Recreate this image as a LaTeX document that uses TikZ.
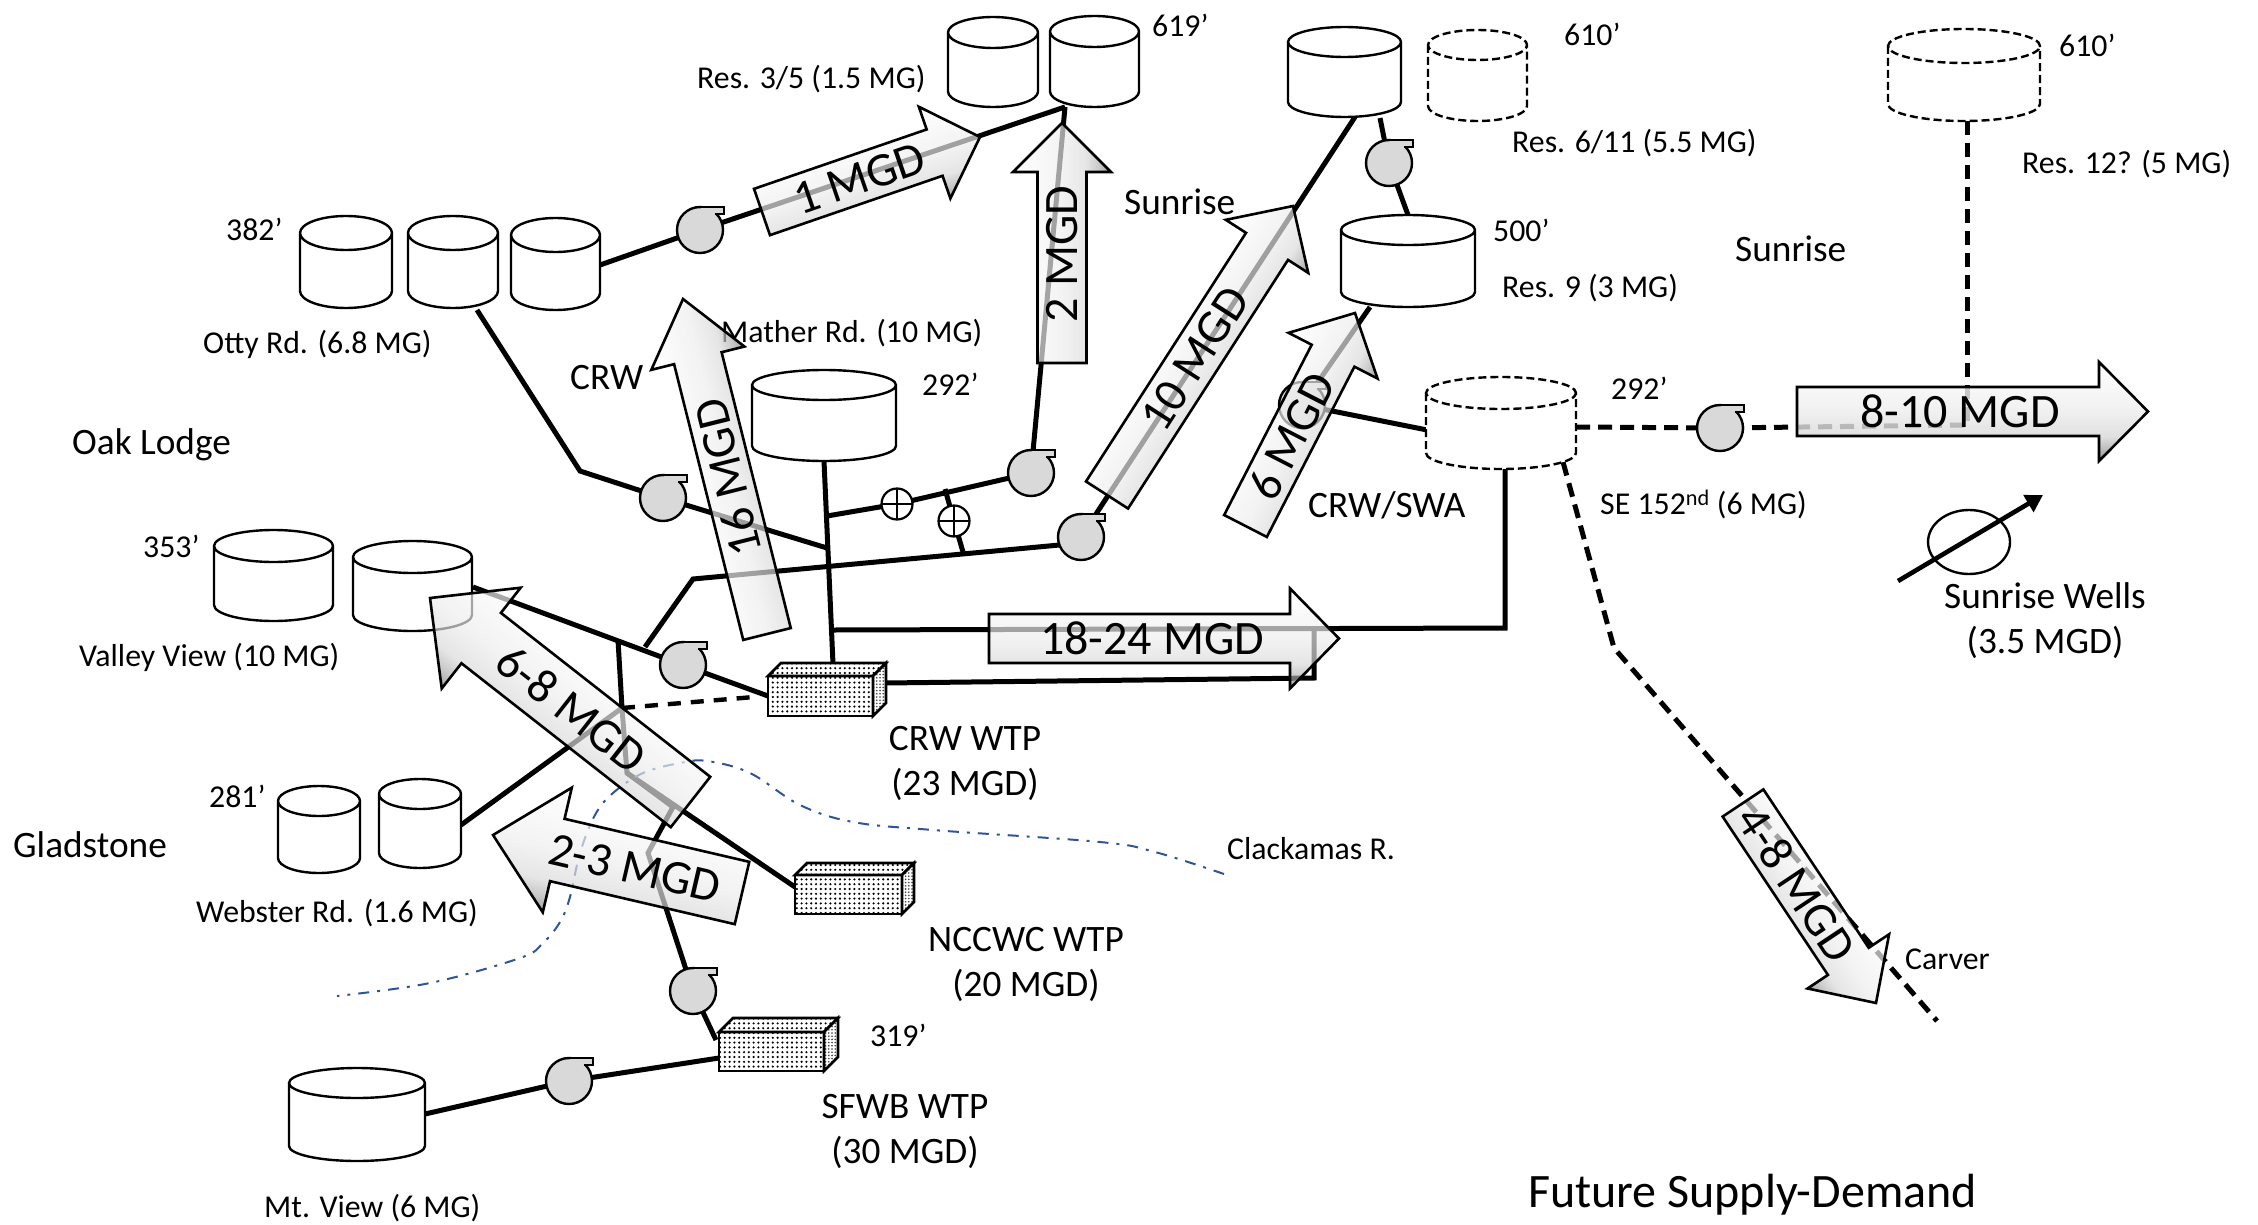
\documentclass[tikz,border=0pt]{standalone}
\usepackage{fontspec}
\setmainfont{Carlito}
\usetikzlibrary{patterns.meta,arrows.meta,shapes.geometric}
\pgfdeclarelayer{pipes}
\pgfsetlayers{pipes,main}
\definecolor{river}{HTML}{2F5597}
\definecolor{pumpgray}{HTML}{D9D9D9}
\pgfdeclareverticalshading{flowA}{100bp}{color(0bp)=(black!55); color(25bp)=(black!55); color(31bp)=(black!32); color(37.5bp)=(black!15); color(50bp)=(black!7); color(75bp)=(white); color(100bp)=(white)}
\pgfdeclareverticalshading{flowB}{100bp}{color(0bp)=(white); color(25bp)=(white); color(50bp)=(black!7); color(62.5bp)=(black!15); color(69bp)=(black!32); color(75bp)=(black!55); color(100bp)=(black!55)}
\tikzset{
  pipe/.style={line width=5pt,line join=miter},
  dashpipe/.style={line width=5pt,dash pattern=on 14pt off 8pt},
  shortdash/.style={line width=4.4pt,dash pattern=on 13pt off 10pt},
  tankline/.style={line width=2.4pt},
  tankdash/.style={line width=2.4pt,dash pattern=on 8pt off 4pt},
  anchorbox/.style={inner sep=0pt,outer sep=0pt,draw=none},
  pumpbody/.style={circle,draw,line width=2.4pt,fill=pumpgray,minimum size=46pt,inner sep=0pt,outer sep=0pt},
  valvebody/.style={circle,draw,line width=2.2pt,fill=white,minimum size=31pt,inner sep=0pt,outer sep=0pt},
  lab/.style={anchor=west,inner sep=0pt,font=\fontsize{31.8}{36}\selectfont},
  labc/.style={anchor=center,align=center,inner sep=0pt,font=\fontsize{37.3}{45}\selectfont},
  region/.style={anchor=west,inner sep=0pt,font=\fontsize{37.3}{42}\selectfont},
  flowtxt/.style={inner sep=0pt,font=\fontsize{48}{52}\selectfont},
  flowbody/.style={draw,line width=2.6pt,line join=miter,fill opacity=.68},
}
% name x0 y0 x1 y1 ry
\newcommand\tankk[7][tankline]{%
  \pgfmathsetmacro\tcx{(#3+#5)/2}\pgfmathsetmacro\tcy{(#4+#6)/2}%
  \pgfmathsetmacro\trx{(#5-#3)/2}%
  \pgfmathsetmacro\tya{#4+#7}\pgfmathsetmacro\tyb{#6-#7}%
  \node[anchorbox,minimum width={(#5-#3)*1pt},minimum height={(#6-#4)*1pt}] (#2) at (\tcx,\tcy) {};
  \draw[#1,fill=white] (#3,\tya) -- (#3,\tyb) arc[start angle=180,end angle=0,x radius=\trx,y radius=#7] -- (#5,\tya) arc[start angle=360,end angle=180,x radius=\trx,y radius=#7] arc[start angle=180,end angle=0,x radius=\trx,y radius=#7];
}
\newcommand\pumpp[3]{%
  \node[pumpbody] (#1) at (#2,#3) {};
  \fill[pumpgray] (#2,#3-23) -- (#2+24,#3-23) -- (#2+24,#3-16) -- (#2+15,#3-16) -- (#2+8,#3-10) -- cycle;
  \draw[line width=2.4pt] (#2,#3-23) -- (#2+24,#3-23) -- (#2+24,#3-16) -- (#2+15,#3-16);
}
\newcommand\valvee[3]{%
  \node[valvebody] (#1) at (#2,#3) {};
  \draw[line width=2.2pt] (#1.north) -- (#1.south) (#1.east) -- (#1.west);
}
% name x0 y1 x1 y2 depth
\newcommand\plantt[6]{%
  \pgfmathsetmacro\pcx{(#2+#4)/2}\pgfmathsetmacro\pcy{(#3+#5)/2}%
  \node[anchorbox,minimum width={(#4-#2)*1pt},minimum height={(#5-#3)*1pt}] (#1) at (\pcx,\pcy) {};
  \path[preaction={fill=white},pattern={Dots[radius=1.2pt,distance=4.8pt]},draw,line width=2.6pt] (#2,#3) rectangle (#4,#5);
  \path[preaction={fill=white},pattern={Dots[radius=1.2pt,distance=4.8pt]},draw,line width=2.6pt] (#2,#3) -- (#2+#6,#3-#6) -- (#4+#6,#3-#6) -- (#4,#3) -- cycle;
  \path[preaction={fill=white},pattern={Dots[radius=.9pt,distance=3.2pt]},pattern color=black!75,draw,line width=2.6pt] (#4,#3) -- (#4+#6,#3-#6) -- (#4+#6,#5-#6) -- (#4,#5) -- cycle;
}
% text, distance from tail, rotation
\newcommand\flowtext[3]{\def\ftxt{#1}\def\fdist{#2}\def\frot{#3}}
% name shade tailx taily tipx tipy headlen halfstem halfhead
\newcommand\flowarrow[9]{%
  \pgfmathsetmacro\fang{atan2(-(#6-#4),#5-#3)}%
  \pgfmathsetmacro\flen{veclen(#5-#3,#6-#4)}%
  \pgfmathsetmacro\fneck{\flen-#7}%
  \begin{scope}[transform canvas={shift={(#3,#4)},rotate=\fang}]
    \path[flowbody,shade,shading=#2] (0,-#8) -- (\fneck,-#8) -- (\fneck,-#9) -- (\flen,0) -- (\fneck,#9) -- (\fneck,#8) -- (0,#8) -- cycle;
    \node[flowtxt,rotate=\frot] (#1) at (\fdist,0) {\ftxt};
  \end{scope}
}
\begin{document}
\begin{tikzpicture}[x=1pt,y=-1pt]
\useasboundingbox (0,0) rectangle (2258,1225);
% ---- river
\draw[river,line width=2pt,dash pattern=on 11pt off 8pt on 3pt off 8pt] plot[smooth,tension=.6] coordinates {(1224,874) (1155,852) (1100,842) (933,830) (853,822) (800,805) (750,773) (707,761) (680,763) (643,773) (613,793) (595,815) (580,853) (570,897) (560,922) (543,943) (520,958) (430,983) (337,996)};
% ---- tanks
\tankk{resA}{948}{17}{1038}{107}{15.5}
\tankk{resB}{1050}{16}{1139}{107}{15.5}
\tankk{resC}{1288}{27}{1401}{117}{15}
\tankk[tankdash]{resD}{1428}{30}{1527}{121}{15}
\tankk{resE}{1341}{215}{1475}{307}{15}
\tankk[tankdash]{resF}{1888}{29}{2040}{121}{17}
\tankk[tankdash]{seT}{1426}{377}{1576}{469}{16}
\tankk{otA}{300}{216}{392}{308}{17}
\tankk{otB}{408}{216}{498}{308}{17}
\tankk{otC}{511}{218}{600}{310}{17}
\tankk{mat}{752}{370}{896}{461}{15}
\tankk{vvA}{214}{530}{333}{621}{16}
\tankk{vvB}{353}{541}{472}{631}{16}
\tankk{wbA}{278}{786}{360}{873}{15}
\tankk{wbB}{379}{779}{461}{868}{15}
\tankk{mtv}{289}{1068}{425}{1161}{15}
% ---- pumps and valves
\pumpp{pA}{700}{230}
\pumpp{pB}{1031}{473}
\pumpp{pC}{663}{498}
\pumpp{pD}{1081}{537}
\pumpp{pE}{1389}{163}
\pumpp{pF}{1720}{428}
\pumpp{pG}{683}{665}
\pumpp{pH}{693}{991}
\pumpp{pI}{569}{1081}
\pumpp{pJ}{1302}{405}
\valvee{vA}{897}{504}
\valvee{vB}{954}{521}
% ---- treatment plants
\plantt{crw}{768}{676}{873}{716}{13}
\plantt{ncc}{795}{875}{902}{914}{12}
\plantt{sfw}{719}{1032}{824}{1071}{14}
% ---- well
\node[draw,ellipse,line width=2.4pt,minimum width=82pt,minimum height=64pt,inner sep=0pt] (well) at (1969,542) {};
\coordinate (wellA) at (1898,581);
\coordinate (wellB) at (2043,495);
\draw[line width=4.6pt,-{Triangle[length=17pt,width=19pt]}] (wellA) -- (wellB);
% ---- junctions
\coordinate (ottOut) at (600,265);
\coordinate (resIn) at (1065,107);
\coordinate (ottLow) at (477,310);
\coordinate (bendA) at (580,471);
\coordinate (jMain) at (827,548);
\coordinate (matOut) at (824,461);
\coordinate (crwTop) at (833,664);
\coordinate (jUp) at (827,516);
\coordinate (jV1) at (945,489);
\coordinate (jV2) at (963,552);
\coordinate (jLow) at (645,647);
\coordinate (bendB) at (693,579);
\coordinate (pDin) at (1081,543);
\coordinate (vvOut) at (473,587);
\coordinate (crwIn) at (768,696);
\coordinate (jVv) at (618,640);
\coordinate (jDash) at (622,708);
\coordinate (dashEnd) at (754,697);
\coordinate (wbOut) at (461,825);
\coordinate (bendC) at (627,773);
\coordinate (jNcc) at (673,807);
\coordinate (nccIn) at (795,887);
\coordinate (bendD) at (648,853);
\coordinate (sfwIn) at (716,1040);
\coordinate (sfwOut) at (719,1058);
\coordinate (mtvOut) at (425,1114);
\coordinate (crwOut) at (885,683);
\coordinate (bendE) at (1314,678);
\coordinate (jMainE) at (1314,628);
\coordinate (jCrw) at (834,630);
\coordinate (bendF) at (1505,628);
\coordinate (seBot) at (1505,468);
\coordinate (resCout) at (1355,117);
\coordinate (resCout2) at (1380,118);
\coordinate (resEin) at (1408,215);
\coordinate (resEout) at (1370,307);
\coordinate (seIn) at (1427,430);
\coordinate (seOut) at (1576,427);
\coordinate (jEast) at (1967,425);
\coordinate (resFout) at (1967,121);
\coordinate (seOut2) at (1563,462);
\coordinate (bendG) at (1614,648);
\coordinate (carver) at (1937,1021);
% ---- pipes
\begin{pgfonlayer}{pipes}
\draw[pipe] (ottOut) -- (pA.center) -- (resIn);
\draw[pipe] (resIn) -- (pB.center);
\draw[pipe] (ottLow) -- (bendA) -- (pC.center) -- (jMain);
\draw[pipe] (matOut) -- (crwTop);
\draw[pipe] (jUp) -- (vA.center) -- (pB.center);
\draw[pipe] (jV1) -- (vB.center) -- (jV2);
\draw[pipe] (jLow) -- (bendB) -- (pDin);
\draw[pipe] (pD.center) -- (resCout);
\draw[pipe] (vvOut) -- (pG.center) -- (crwIn);
\draw[pipe] (jVv) -- (jDash) -- (bendC) -- (jNcc) -- (bendD) -- (pH.center) -- (sfwIn);
\draw[pipe] (bendC) -- (nccIn);
\draw[pipe] (wbOut) -- (jDash);
\draw[shortdash] (jDash) -- (dashEnd);
\draw[pipe] (sfwOut) -- (pI.center) -- (mtvOut);
\draw[pipe] (jCrw) -- (bendF) -- (seBot);
\draw[pipe] (crwOut) -- (bendE) -- (jMainE);
\draw[pipe] (resCout2) -- (pE.center) -- (resEin);
\draw[pipe] (resEout) -- (pJ.center) -- (seIn);
\draw[dashpipe] (seOut) -- (pF.center) -- (jEast);
\draw[dashpipe] (resFout) -- (jEast);
\draw[dashpipe] (seOut2) -- (bendG) -- (carver);
\end{pgfonlayer}
% ---- labels
\node[lab] (tA) at (697,79) {Res. 3/5 (1.5 MG)};
\node[lab] (tB) at (1152,25) {619’};
\node[lab] (tC) at (1564,34) {610’};
\node[lab] (tD) at (1512,143) {Res. 6/11 (5.5 MG)};
\node[lab] (tE) at (2059,45) {610’};
\node[lab] (tF) at (2022,164) {Res. 12? (5 MG)};
\node[region] (tG) at (1124,202) {Sunrise};
\node[region] (tH) at (1735,249) {Sunrise};
\node[lab] (tI) at (226,229) {382’};
\node[lab] (tJ) at (203,344) {Otty Rd. (6.8 MG)};
\node[lab] (tK) at (1493,230) {500’};
\node[lab] (tL) at (1502,288) {Res. 9 (3 MG)};
\node[lab] (tM) at (721,333) {Mather Rd. (10 MG)};
\node[lab] (tN) at (922,384) {292’};
\node[region] (tO) at (570,378) {CRW};
\node[region] (tP) at (72,445) {Oak Lodge};
\node[lab] (tQ) at (1611,388) {292’};
\node[lab] (tR) at (1600,504) {SE 152\textsuperscript{nd} (6 MG)};
\node[region] (tS) at (1308,505) {CRW/SWA};
\node[lab] (tT) at (143,546) {353’};
\node[lab] (tU) at (79,657) {Valley View (10 MG)};
\node[labc] (tV) at (965,763) {CRW WTP\\(23 MGD)};
\node[lab] (tW) at (209,796) {281’};
\node[region] (tX) at (13,845) {Gladstone};
\node[lab] (tY) at (196,913) {Webster Rd. (1.6 MG)};
\node[lab] (tZ) at (1227,849) {Clackamas R.};
\node[labc] (uA) at (1026,964) {NCCWC WTP\\(20 MGD)};
\node[lab] (uB) at (870,1035) {319’};
\node[labc] (uC) at (905,1131) {SFWB WTP\\(30 MGD)};
\node[lab] (uD) at (264,1208) {Mt. View (6 MG)};
\node[lab] (uE) at (1905,959) {Carver};
\node[labc] (uF) at (2045,621) {Sunrise Wells\\(3.5 MGD)};
\node[anchor=west,inner sep=0pt,font=\fontsize{48}{54}\selectfont] (uG) at (1528,1195) {Future Supply-Demand};
% ---- flow arrows
\flowtext{1 MGD}{103}{0}
\flowarrow{fA}{flowA}{762}{212}{980}{137}{48}{24.5}{48.5}
\flowtext{2 MGD}{109}{0}
\flowarrow{fB}{flowA}{1062}{363}{1062}{123}{49}{24.5}{49}
\flowtext{10 MGD}{162}{0}
\flowarrow{fC}{flowA}{1107}{495}{1293}{206}{48}{25}{49}
\flowtext{6 MGD}{101}{0}
\flowarrow{fD}{flowA}{1245.5}{526}{1355}{313}{48}{24}{50}
\flowtext{16 MGD}{161}{0}
\flowarrow{fE}{flowA}{767}{634}{683}{299}{61}{24.5}{48}
\flowtext{18-24 MGD}{163}{0}
\flowarrow{fF}{flowA}{989}{638.5}{1339}{638.5}{49}{24.5}{50}
\begingroup
\tikzset{flowbody/.append style={fill opacity=.82}}
\flowtext{8-10 MGD}{163}{0}
\flowarrow{fG}{flowA}{1797}{411.5}{2148}{411.5}{49}{24.5}{49.5}
\endgroup
\flowtext{4-8 MGD}{97}{0}
\flowarrow{fH}{flowA}{1743}{803}{1876}{1003}{50}{24.5}{49}
\flowtext{6-8 MGD}{151}{180}
\flowarrow{fI}{flowB}{690.5}{802}{430}{598}{65}{32}{64}
\flowtext{2-3 MGD}{110}{180}
\flowarrow{fJ}{flowB}{742}{893}{493}{835}{66}{32}{64}
\end{tikzpicture}
\end{document}
